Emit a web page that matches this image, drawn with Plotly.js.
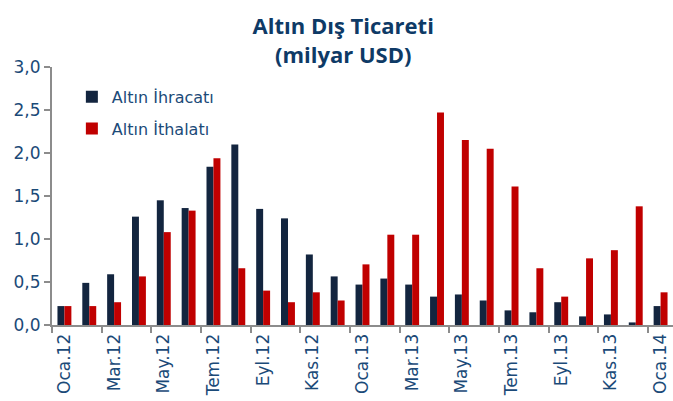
<!DOCTYPE html>
<html>
<head>
<meta charset="utf-8">
<script src="https://cdn.plot.ly/plotly-3.0.1.min.js"></script>
<style>html,body{margin:0;padding:0;background:#fff}#chart{width:673px;height:401px}</style>
</head>
<body>
<div id="chart"></div>
<script>
const months = ["Oca.12","Şub.12","Mar.12","Nis.12","May.12","Haz.12","Tem.12","Ağu.12","Eyl.12","Eki.12","Kas.12","Ara.12",
                "Oca.13","Şub.13","Mar.13","Nis.13","May.13","Haz.13","Tem.13","Ağu.13","Eyl.13","Eki.13","Kas.13","Ara.13","Oca.14"];
const ihracat = [0.22,0.49,0.59,1.26,1.45,1.36,1.84,2.10,1.35,1.24,0.82,0.565,
                 0.47,0.54,0.47,0.33,0.355,0.285,0.17,0.148,0.265,0.10,0.123,0.03,0.22];
const ithalat = [0.22,0.22,0.265,0.565,1.08,1.33,1.94,0.66,0.40,0.265,0.38,0.285,
                 0.705,1.05,1.05,2.47,2.15,2.05,1.61,0.66,0.33,0.775,0.87,1.38,0.38];

const textColor = "#1B4A78";
const font = "DejaVu Sans, sans-serif";

const data = [
  {type:"bar", x:months, y:ihracat, name:"Altın İhracatı", legendgroup:"a",
   marker:{color:"#13253F"}},
  {type:"bar", x:months, y:ithalat, name:"Altın İthalatı", legendgroup:"b",
   marker:{color:"#C00000"}}
];

const layout = {
  width:673, height:401,
  margin:{l:52, r:0, t:67, b:76},
  paper_bgcolor:"#fff", plot_bgcolor:"#fff",
  barmode:"group", bargap:0.44, bargroupgap:0,
  separators:",.",
  font:{family:font, color:textColor, size:16},
  title:{text:"<b>Altın Dış Ticareti<br>(milyar USD)</b>", x:0.51, xanchor:"center",
         y:0.915, yanchor:"top", font:{family:"Open Sans, sans-serif", size:22, color:"#0E3A66"}},
  showlegend:true,
  legend:{x:0.032, y:0.95, xanchor:"left", yanchor:"top", bgcolor:"rgba(0,0,0,0)",
          tracegroupgap:8, font:{size:16, color:textColor, family:font}},
  xaxis:{type:"category", categoryorder:"array", categoryarray:months,
         tickmode:"linear", tick0:0, dtick:2, tickson:"boundaries",
         ticks:"outside", ticklen:6, tickcolor:"#8c8c8c", tickwidth:2,
         showline:true, linecolor:"#8c8c8c", linewidth:2, showgrid:false,
         tickangle:-90, tickfont:{size:17, color:textColor, family:font},
         range:[-0.5,24.5]},
  yaxis:{range:[0,3], dtick:0.5, tickformat:".1f",
         ticks:"outside", ticklen:6, tickcolor:"#8c8c8c", tickwidth:2,
         showline:true, linecolor:"#8c8c8c", linewidth:2, showgrid:false, zeroline:false,
         tickfont:{size:17, color:textColor, family:font}}
};

Plotly.newPlot("chart", data, layout, {displayModeBar:false, staticPlot:true});
</script>
</body>
</html>
